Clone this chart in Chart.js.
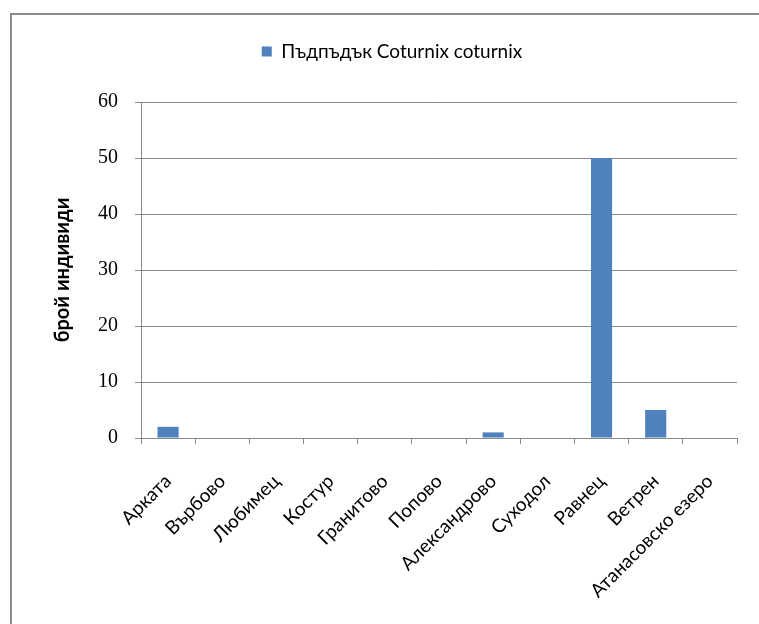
<!DOCTYPE html>
<html>
<head>
<meta charset="utf-8">
<script src="https://cdn.jsdelivr.net/npm/chart.js@4"></script>
<style>
  html, body { margin: 0; padding: 0; background: #fff; overflow: hidden; }
  #frame { position: absolute; left: 10px; top: 13px; width: 800px; height: 700px;
           border: 2px solid #8c8c8c; box-sizing: border-box; }
  #wrap { position: absolute; left: 0; top: 0; width: 759px; height: 624px; }
</style>
</head>
<body>
<div id="frame"></div>
<div id="wrap"><canvas id="c" width="759" height="624"></canvas></div>
<script>
const categories = ['Арката', 'Върбово', 'Любимец', 'Костур', 'Гранитово', 'Попово',
  'Александрово', 'Суходол', 'Равнец', 'Ветрен', 'Атанасовско езеро'];
const seriesName = 'Пъдпъдък Coturnix coturnix';
const quailCounts = [2, 0, 0, 0, 0, 0, 1, 0, 50, 5, 0];
const yTicks = [0, 10, 20, 30, 40, 50, 60];
const yTitle = 'брой индивиди';

const legendSpacer = {
  id: 'legendSpacer',
  beforeInit(chart) {
    const origFit = chart.legend.fit;
    chart.legend.fit = function () {
      origFit.bind(chart.legend)();
      this.height += 31;
    };
  }
};

new Chart(document.getElementById('c'), {
  type: 'bar',
  data: {
    labels: categories,
    datasets: [{
      label: seriesName,
      data: quailCounts,
      backgroundColor: '#4f81bd',
      borderWidth: 0,
      barPercentage: 0.39,
      categoryPercentage: 1.0
    }]
  },
  options: {
    responsive: false,
    animation: false,
    devicePixelRatio: 1,
    layout: { padding: { left: 47, right: 22, top: 32, bottom: 0 } },
    plugins: {
      legend: {
        position: 'top',
        labels: {
          boxWidth: 10, boxHeight: 10, padding: 10,
          color: '#000',
          font: { family: 'Lato, "Liberation Sans", sans-serif', size: 19 }
        }
      },
      tooltip: { enabled: false }
    },
    scales: {
      x: {
        grid: { display: true, drawOnChartArea: false, offset: true, color: '#888', tickLength: 6 },
        border: { display: true, color: '#888' },
        ticks: {
          minRotation: 45, maxRotation: 45, padding: 26, color: '#000',
          font: { family: 'Lato, "Liberation Sans", sans-serif', size: 19 }
        },
        afterFit(scale) { scale.height = 186; }
      },
      y: {
        min: 0, max: 60,
        afterBuildTicks(scale) { scale.ticks = yTicks.map(v => ({ value: v })); },
        grid: { color: '#888', tickLength: 6 },
        border: { display: true, color: '#888' },
        ticks: {
          padding: 17, color: '#000',
          font: { family: '"Liberation Serif", serif', size: 20 }
        },
        title: {
          display: true, text: yTitle, color: '#000',
          font: { family: 'Lato, "Liberation Sans", sans-serif', size: 20, weight: 'bold' },
          padding: { top: 4, bottom: 0 }
        },
        afterFit(scale) { scale.width = 94; }
      }
    }
  },
  plugins: [legendSpacer]
});
</script>
</body>
</html>
